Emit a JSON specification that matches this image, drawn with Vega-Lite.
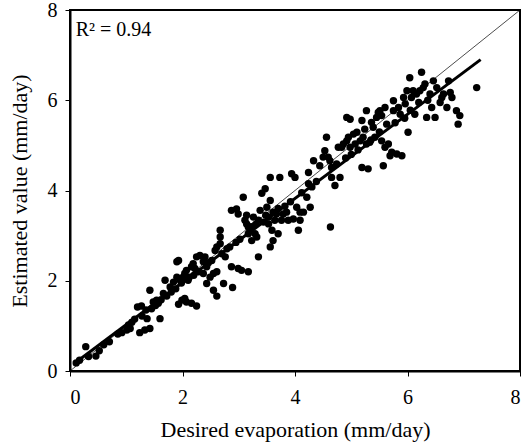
{
  "$schema": "https://vega.github.io/schema/vega-lite/v6.json",
  "width": 450,
  "height": 361,
  "autosize": "none",
  "padding": {"left": 70, "top": 10, "right": 4, "bottom": 76},
  "background": "white",
  "config": {
    "view": {"stroke": "black", "strokeWidth": 2},
    "font": "Liberation Serif",
    "axis": {
      "grid": false,
      "labelFont": "Liberation Serif",
      "labelFontSize": 20,
      "labelColor": "black",
      "titleFont": "Liberation Serif",
      "titleFontSize": 22,
      "titleFontWeight": "normal",
      "titleColor": "black",
      "domainColor": "black",
      "domainWidth": 2,
      "tickColor": "black",
      "tickSize": 5,
      "tickWidth": 1
    }
  },
  "datasets": {
    "pts": [
      {"x":0.11,"y":0.18},{"x":0.17,"y":0.24},{"x":0.28,"y":0.54},{"x":0.46,"y":0.33},{"x":0.52,"y":0.45},
      {"x":0.92,"y":0.85},{"x":1.01,"y":0.91},{"x":1.07,"y":0.94},{"x":1.04,"y":1.02},{"x":1.24,"y":0.85},
      {"x":1.33,"y":0.91},{"x":1.42,"y":0.94},{"x":1.2,"y":1.42},{"x":1.27,"y":1.44},{"x":1.35,"y":1.35},
      {"x":1.37,"y":1.16},{"x":1.42,"y":1.79},{"x":1.48,"y":1.53},{"x":1.54,"y":1.57},{"x":1.57,"y":1.5},
      {"x":1.6,"y":1.16},{"x":1.66,"y":1.72},{"x":1.69,"y":2.01},{"x":1.1,"y":1.08},{"x":0.7,"y":0.65},
      {"x":0.33,"y":0.32},{"x":0.6,"y":0.58},{"x":0.85,"y":0.82},{"x":1.15,"y":1.15},{"x":1.28,"y":1.22},
      {"x":1.45,"y":1.38},{"x":1.52,"y":1.45},{"x":1.62,"y":1.58},{"x":1.72,"y":1.66},{"x":1.8,"y":1.75},
      {"x":1.78,"y":1.86},{"x":1.84,"y":1.97},{"x":1.90,"y":2.42},{"x":1.93,"y":2.45},{"x":1.90,"y":2.08},
      {"x":1.96,"y":2.01},{"x":2.01,"y":2.08},{"x":2.04,"y":2.16},{"x":2.07,"y":2.23},{"x":2.10,"y":2.01},
      {"x":2.16,"y":2.31},{"x":2.22,"y":2.27},{"x":1.99,"y":1.57},{"x":1.93,"y":1.48},{"x":2.04,"y":1.61},
      {"x":2.07,"y":1.53},{"x":2.16,"y":1.50},{"x":2.25,"y":1.44},{"x":2.19,"y":2.38},{"x":2.25,"y":2.53},
      {"x":2.31,"y":2.56},{"x":2.40,"y":2.53},{"x":2.37,"y":2.42},{"x":2.43,"y":2.31},{"x":2.37,"y":2.16},
      {"x":2.43,"y":1.94},{"x":2.49,"y":2.08},{"x":2.55,"y":2.16},{"x":2.52,"y":2.45},{"x":2.58,"y":2.67},
      {"x":2.61,"y":2.75},{"x":2.67,"y":2.82},{"x":2.67,"y":3.12},{"x":2.67,"y":2.97},{"x":2.70,"y":2.60},
      {"x":2.76,"y":2.53},{"x":2.73,"y":1.94},{"x":2.55,"y":1.79},{"x":2.61,"y":1.66},{"x":2.61,"y":2.20},
      {"x":2.79,"y":2.71},{"x":2.87,"y":2.31},{"x":2.89,"y":1.85},{"x":2.99,"y":2.27},{"x":3.05,"y":2.23},
      {"x":3.17,"y":2.20},{"x":1.98,"y":1.95},{"x":2.12,"y":2.08},{"x":2.28,"y":2.2},{"x":2.46,"y":2.4},
      {"x":2.84,"y":2.75},{"x":2.95,"y":2.85},{"x":3.02,"y":2.92},{"x":2.2,"y":2.12},{"x":1.88,"y":1.82},
      {"x":2.87,"y":3.56},{"x":2.96,"y":3.59},{"x":2.99,"y":3.48},{"x":3.08,"y":3.85},{"x":3.11,"y":3.34},
      {"x":3.14,"y":3.45},{"x":3.14,"y":3.26},{"x":3.17,"y":3.19},{"x":3.17,"y":3.04},{"x":3.20,"y":3.12},
      {"x":3.23,"y":2.89},{"x":3.26,"y":3.41},{"x":3.29,"y":3.04},{"x":3.32,"y":2.97},{"x":3.35,"y":3.34},
      {"x":3.38,"y":3.56},{"x":3.35,"y":2.53},{"x":3.41,"y":3.94},{"x":3.47,"y":4.04},{"x":3.50,"y":3.63},
      {"x":3.53,"y":3.41},{"x":3.53,"y":3.26},{"x":3.56,"y":4.29},{"x":3.56,"y":3.78},{"x":3.56,"y":2.75},
      {"x":3.59,"y":3.12},{"x":3.61,"y":3.52},{"x":3.61,"y":2.89},{"x":3.64,"y":3.34},{"x":3.67,"y":3.48},
      {"x":3.70,"y":3.04},{"x":3.73,"y":4.29},{"x":3.76,"y":3.34},{"x":3.79,"y":3.48},{"x":3.85,"y":3.52},
      {"x":3.88,"y":3.34},{"x":3.94,"y":4.37},{"x":3.97,"y":3.37},{"x":4.00,"y":4.29},{"x":4.03,"y":3.63},
      {"x":4.06,"y":3.12},{"x":4.09,"y":3.52},{"x":4.09,"y":3.34},{"x":4.15,"y":3.52},{"x":4.21,"y":3.85},
      {"x":4.24,"y":4.15},{"x":4.24,"y":4.40},{"x":4.27,"y":3.63},{"x":4.63,"y":3.19},
      {"x":3.22,"y":3.2},{"x":3.44,"y":3.3},{"x":3.48,"y":3.45},{"x":3.7,"y":3.6},{"x":3.82,"y":3.65},
      {"x":3.92,"y":3.75},{"x":4.12,"y":3.95},{"x":4.3,"y":4.08},{"x":4.38,"y":4.2},{"x":3.3,"y":3.25},
      {"x":4.33,"y":4.66},{"x":4.44,"y":4.55},{"x":4.50,"y":4.74},{"x":4.53,"y":4.88},{"x":4.56,"y":5.18},
      {"x":4.59,"y":4.74},{"x":4.62,"y":4.66},{"x":4.65,"y":4.51},{"x":4.65,"y":4.29},{"x":4.71,"y":4.11},
      {"x":4.74,"y":4.59},{"x":4.77,"y":4.96},{"x":4.80,"y":4.29},{"x":4.83,"y":4.96},{"x":4.86,"y":5.03},
      {"x":4.92,"y":5.10},{"x":4.95,"y":5.18},{"x":4.98,"y":4.96},{"x":5.04,"y":5.25},{"x":5.07,"y":5.03},
      {"x":5.10,"y":5.29},{"x":5.16,"y":5.10},{"x":5.19,"y":4.51},{"x":5.21,"y":5.18},{"x":5.24,"y":5.36},
      {"x":5.27,"y":5.03},{"x":5.30,"y":4.48},{"x":5.33,"y":5.07},{"x":5.36,"y":5.51},{"x":5.39,"y":5.40},
      {"x":5.42,"y":5.18},{"x":5.45,"y":5.62},{"x":5.48,"y":5.73},{"x":5.51,"y":5.77},{"x":5.54,"y":5.10},
      {"x":5.57,"y":4.55},{"x":5.60,"y":4.96},{"x":5.63,"y":5.47},{"x":5.66,"y":5.03},{"x":5.69,"y":4.77},
      {"x":5.72,"y":4.85},{"x":5.75,"y":5.77},{"x":5.75,"y":5.99},{"x":5.81,"y":4.81},{"x":5.84,"y":5.84},
      {"x":5.87,"y":5.69},{"x":5.90,"y":4.77},{"x":5.93,"y":6.06},{"x":5.96,"y":5.92},{"x":5.99,"y":6.21},
      {"x":6.01,"y":5.29},{"x":6.04,"y":6.50},{"x":6.07,"y":6.06},{"x":6.10,"y":6.21},{"x":6.13,"y":5.69},
      {"x":4.92,"y":5.62},{"x":4.98,"y":5.58},{"x":5.19,"y":5.55},{"x":5.27,"y":5.77},{"x":5.54,"y":5.66},
      {"x":5.60,"y":5.84},{"x":5.0,"y":4.8},{"x":5.12,"y":4.9},{"x":5.35,"y":5.12},{"x":5.5,"y":5.3},
      {"x":5.78,"y":5.5},{"x":5.95,"y":5.6},{"x":6.05,"y":5.78},{"x":4.9,"y":4.72},
      {"x":6.16,"y":6.14},{"x":6.22,"y":6.21},{"x":6.25,"y":6.62},{"x":6.28,"y":6.28},{"x":6.31,"y":6.36},
      {"x":6.34,"y":5.62},{"x":6.40,"y":6.14},{"x":6.43,"y":5.84},{"x":6.46,"y":6.43},{"x":6.49,"y":5.62},
      {"x":6.52,"y":6.28},{"x":6.58,"y":5.95},{"x":6.61,"y":6.06},{"x":6.64,"y":6.14},{"x":6.70,"y":5.84},
      {"x":6.73,"y":6.43},{"x":6.76,"y":6.17},{"x":6.79,"y":6.06},{"x":6.87,"y":5.77},{"x":6.90,"y":5.47},
      {"x":6.93,"y":5.66},{"x":7.23,"y":6.28},{"x":6.2,"y":5.95},{"x":6.36,"y":6.0}
    ],
    "oneToOne": [{"x":0,"y":0},{"x":8,"y":8}],
    "fit": [{"x":0.1,"y":0.19},{"x":7.3,"y":6.9}],
    "label": [{"x":0.1,"y":7.42,"t":"R² = 0.94"}]
  },
  "layer": [
    {
      "data": {"name": "oneToOne"},
      "mark": {"type": "line", "color": "black", "strokeWidth": 0.7},
      "encoding": {
        "x": {"field": "x", "type": "quantitative", "scale": {"domain": [0, 8]},
              "axis": {"values": [0,2,4,6,8], "format": "d", "title": "Desired evaporation (mm/day)", "titlePadding": 12, "labelPadding": 11}},
        "y": {"field": "y", "type": "quantitative", "scale": {"domain": [0, 8]},
              "axis": {"values": [0,2,4,6,8], "format": "d", "title": "Estimated value (mm/day)", "titlePadding": 16, "labelPadding": 8}}
      }
    },
    {
      "data": {"name": "pts"},
      "mark": {"type": "circle", "color": "black", "opacity": 1, "size": 55},
      "encoding": {
        "x": {"field": "x", "type": "quantitative"},
        "y": {"field": "y", "type": "quantitative"}
      }
    },
    {
      "data": {"name": "fit"},
      "mark": {"type": "line", "color": "black", "strokeWidth": 3},
      "encoding": {
        "x": {"field": "x", "type": "quantitative"},
        "y": {"field": "y", "type": "quantitative"}
      }
    },
    {
      "data": {"name": "label"},
      "mark": {"type": "text", "align": "left", "baseline": "alphabetic", "font": "Liberation Serif", "fontSize": 20, "color": "black"},
      "encoding": {
        "x": {"field": "x", "type": "quantitative"},
        "y": {"field": "y", "type": "quantitative"},
        "text": {"field": "t"}
      }
    }
  ]
}
